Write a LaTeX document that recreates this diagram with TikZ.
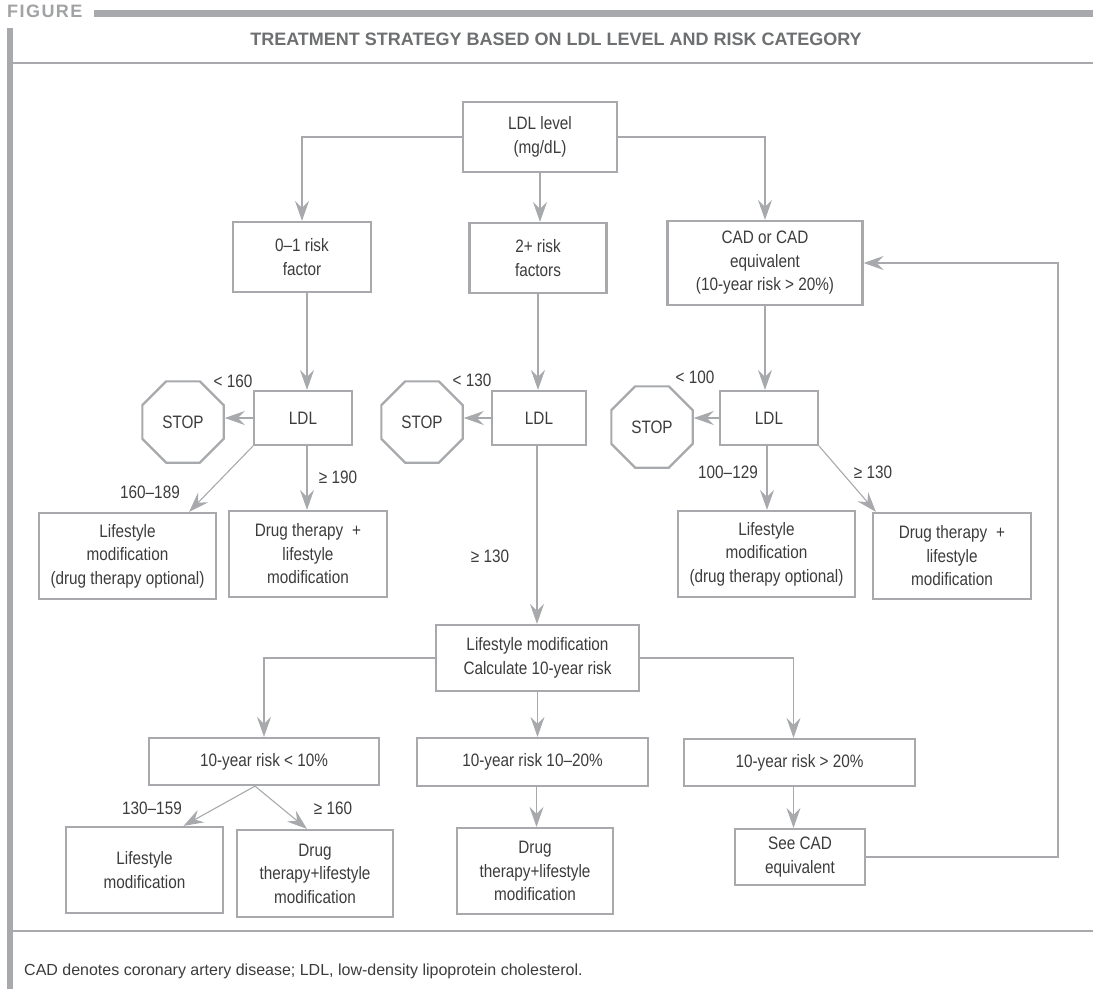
\documentclass[tikz,border=0pt]{standalone}
\usepackage{fontspec}
\setmainfont{Liberation Sans}[FakeStretch=0.85]
\newfontfamily\figfont{Liberation Sans}[LetterSpace=8]
\newfontfamily\plainfont{Liberation Sans}
\usetikzlibrary{arrows.meta,shapes.geometric,calc}
\definecolor{lg}{HTML}{A7A9AC}
\definecolor{tx}{HTML}{3C3C3C}
\definecolor{tg}{HTML}{6D6F71}
\definecolor{fg}{HTML}{A0A2A4}
\begin{document}
\begin{tikzpicture}[x=1pt,y=-1pt,
 box/.style={draw=lg,line width=2.2pt,text=tx,align=center,inner sep=0pt,font=\fontsize{18}{23.5}\selectfont},
 stopn/.style={draw=lg,line width=2.2pt,regular polygon,regular polygon sides=8,minimum size=88pt,inner sep=0pt,text=tx,font=\fontsize{18}{23.5}\selectfont},
 conn/.style={draw=lg,line width=1.1pt,-{Stealth[length=20pt,width=14pt,inset=7pt]}},
 lab/.style={text=tx,font=\fontsize{18}{20}\selectfont,inner sep=0pt}
]
\useasboundingbox (0,0) rectangle (1093,989);
% header
\node[anchor=base west,inner sep=0pt,text=fg,font=\figfont\bfseries\fontsize{18}{18}\selectfont] (fig) at (7,17) {FIGURE};
\fill[lg] (94,10) rectangle (1093,17);
\fill[lg] (7,28) rectangle (13,989);
\node[anchor=base,inner sep=0pt,text=tg,font=\plainfont\bfseries\fontsize{18}{18}\selectfont] (title) at (556,45) {TREATMENT STRATEGY BASED ON LDL LEVEL AND RISK CATEGORY};
\draw[lg,line width=2.5pt] (13,63) -- (1093,63);
\draw[lg,line width=1.3pt] (13,931) -- (1093,931);
\node[anchor=base west,inner sep=0pt,text=tx,font=\plainfont\fontsize{16}{16}\selectfont] (fn) at (24,975) {CAD denotes coronary artery disease; LDL, low-density lipoprotein cholesterol.};

% nodes
\node[box,minimum width=154pt,minimum height=70pt] (lvl) at (540,137) {LDL level\\(mg/dL)};
\node[box,minimum width=138pt,minimum height=70pt] (r01) at (302,257) {0--1 risk\\factor};
\node[box,minimum width=137pt,minimum height=70pt] (r2) at (538,258) {2+ risk\\factors};
\node[box,minimum width=195pt,minimum height=84pt] (cad) at (765,263) {CAD or CAD\\equivalent\\(10-year risk > 20\%)};

\node[stopn] (stop1) at (183,422) {STOP};
\node[box,minimum width=98pt,minimum height=54pt] (ldl1) at (303,418) {LDL};
\node[stopn] (stop2) at (422,422) {STOP};
\node[box,minimum width=94pt,minimum height=54pt] (ldl2) at (539,418) {LDL};
\node[stopn] (stop3) at (652,427) {STOP};
\node[box,minimum width=98pt,minimum height=54pt] (ldl3) at (769,418) {LDL};

\node[box,minimum width=177pt,minimum height=86pt] (ls1) at (127.5,556) {Lifestyle\\modification\\(drug therapy optional)};
\node[box,minimum width=158pt,minimum height=86pt] (dr1) at (308,554) {Drug therapy\enspace+\\lifestyle\\modification};
\node[box,minimum width=177pt,minimum height=86pt] (ls3) at (766.5,554) {Lifestyle\\modification\\(drug therapy optional)};
\node[box,minimum width=158pt,minimum height=86pt] (dr3) at (952,556) {Drug therapy\enspace+\\lifestyle\\modification};

\node[box,minimum width=203pt,minimum height=66pt] (calc) at (537.5,658) {Lifestyle modification\\Calculate 10-year risk};
\node[box,minimum width=230pt,minimum height=47pt] (lt10) at (264,761.5) {10-year risk < 10\%};
\node[box,minimum width=231pt,minimum height=48pt] (m1020) at (532.5,762) {10-year risk 10--20\%};
\node[box,minimum width=231pt,minimum height=47pt] (gt20) at (799.5,762.5) {10-year risk > 20\%};

\node[box,minimum width=157pt,minimum height=86pt] (lsB) at (144.5,870) {Lifestyle\\modification};
\node[box,minimum width=156pt,minimum height=87pt] (drB) at (315,873.5) {Drug\\therapy+lifestyle\\modification};
\node[box,minimum width=156pt,minimum height=86pt] (drM) at (535,871) {Drug\\therapy+lifestyle\\modification};
\node[box,minimum width=130pt,minimum height=56pt] (see) at (800,857) {See CAD\\equivalent};

% labels
\node[lab] (l1) at (233,381) {< 160};
\node[lab] (l2) at (472,380) {< 130};
\node[lab] (l3) at (695,377) {< 100};
\node[lab] (l4) at (150,492) {160--189};
\node[lab] (l5) at (338,477) {≥ 190};
\node[lab] (l6) at (490,556) {≥ 130};
\node[lab] (l7) at (728,472) {100--129};
\node[lab] (l8) at (873,472) {≥ 130};
\node[lab] (l9) at (152,808) {130--159};
\node[lab] (l10) at (333,808) {≥ 160};

% connectors
\draw[conn] (lvl.west) -- (lvl.west -| r01.north) -- (r01.north);
\draw[conn] (lvl.south) -- (lvl.south |- r2.north);
\draw[conn] (lvl.east) -- (lvl.east -| cad.north) -- (cad.north);
\draw[conn] ([xshift=5pt]r01.south) -- ([xshift=5pt]r01.south |- ldl1.north);
\draw[conn] (r2.south) -- (r2.south |- ldl2.north);
\draw[conn] (cad.south) -- (cad.south |- ldl3.north);
\draw[conn] (ldl1.west) -- (ldl1.west -| stop1.east);
\draw[conn] (ldl2.west) -- (ldl2.west -| stop2.east);
\draw[conn] (ldl3.west) -- (ldl3.west -| stop3.east);
\draw[conn] (ldl1.south west) -- ([xshift=-28pt]ls1.north east);
\draw[conn] ([xshift=4pt]ldl1.south) -- ([xshift=4pt]ldl1.south |- dr1.north);
\draw[conn] ([xshift=-2pt]ldl2.south) -- ([xshift=-2pt]ldl2.south |- calc.north);
\draw[conn] ([xshift=-2pt]ldl3.south) -- ([xshift=-2pt]ldl3.south |- ls3.north);
\draw[conn] (ldl3.south east) -- ([xshift=4pt]dr3.north west);
\draw[conn] (calc.west) -- (calc.west -| lt10.north) -- (lt10.north);
\draw[conn] (calc.south) -- (calc.south |- m1020.north);
\draw[conn] (calc.east) -- ([xshift=-6pt]calc.east -| gt20.north) -- ([xshift=-6pt]gt20.north);
\coordinate (lt10b) at ([xshift=-9pt]lt10.south);
\draw[conn] (lt10b) -- ([xshift=39pt]lsB.north);
\draw[conn] (lt10b) -- ([xshift=-8pt]drB.north);
\draw[conn] ([xshift=4pt]m1020.south) -- ([xshift=4pt]m1020.south |- drM.north);
\draw[conn] ([xshift=-6pt]gt20.south) -- ([xshift=-6pt]gt20.south |- see.north);
\coordinate (fb) at (1058,857);
\draw[conn] (see.east) -- (fb) -- (fb |- cad.east) -- (cad.east);
\end{tikzpicture}
\end{document}
